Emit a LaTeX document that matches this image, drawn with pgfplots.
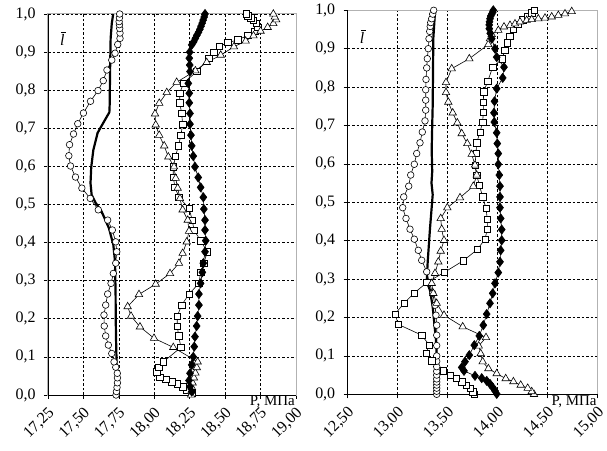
\documentclass[border=0pt]{standalone}
\usepackage{fontspec}
\setmainfont{Liberation Serif}
\usepackage{pgfplots}
\pgfplotsset{compat=1.18}

\tikzset{lbar/.style={font=\fontsize{16}{18}\selectfont\itshape, inner sep=1bp}}
\newcommand{\lbar}{\makebox[0pt][l]{\hspace{0.8bp}\raisebox{12.5bp}{\rule{5.5bp}{0.9bp}}}l}

\pgfplotsset{
  panel/.style={
    scale only axis,
    ymin=0, ymax=1,
    ytick={0,0.1,0.2,0.3,0.4,0.5,0.6,0.7,0.8,0.9,1.0},
    grid=major,
    major grid style={black, line width=0.6bp, dash pattern=on 2.5bp off 2bp},
    axis line style={gray!60, line width=1bp},
    tick align=outside, xtick pos=bottom, ytick pos=left,
    major tick length=4bp,
    tick style={black, line width=0.6bp},
    clip=false,
    tick label style={font=\fontsize{16}{18}\selectfont},
    /pgf/number format/.cd, use comma, fixed, fixed zerofill, assume math mode=true,
    /pgfplots/.cd,
    yticklabel style={/pgf/number format/precision=1, xshift=-5bp},
    xticklabel style={/pgf/number format/precision=2, rotate=45, anchor=east, yshift=-11bp, xshift=-2bp},
    xlabel={P, МПа},
    xlabel style={at={(axis description cs:1,0)}, anchor=north east, inner sep=1bp, font=\fontsize{15}{17}\selectfont},
  },
  thin line/.style={black, line width=0.6bp},
  circ/.style={thin line, mark=*, mark size=3.3bp, mark options={fill=white, solid, line width=0.6bp}},
  sq/.style={thin line, mark=square*, mark size=3.2bp, mark options={fill=white, solid, line width=0.6bp}},
  tri/.style={thin line, mark=triangle*, mark size=4.3bp, mark options={fill=white, solid, line width=0.6bp}},
  dia/.style={thin line, mark=diamond*, mark size=4.6bp, mark options={fill=black, solid}},
  thick line/.style={black, line width=2.2bp, no markers},
}

\begin{document}
\begin{tikzpicture}
\useasboundingbox (0,0) rectangle (607bp,451bp);

% ---------- left panel ----------
\begin{axis}[panel, at={(48bp,56bp)}, anchor=south west, width=248bp, height=381bp,
  xmin=17.25, xmax=19, xtick={17.25,17.5,17.75,18,18.25,18.5,18.75,19}]

\addplot[thick line] coordinates {
(17.737,0.0) (17.735,0.05) (17.733,0.1) (17.730,0.15) (17.728,0.2) (17.727,0.262)
(17.723,0.35) (17.711,0.394) (17.68,0.438) (17.629,0.481) (17.585,0.505) (17.558,0.525)
(17.550,0.556) (17.555,0.598) (17.57,0.643) (17.60,0.688) (17.652,0.722) (17.683,0.742)
(17.685,0.76) (17.688,0.85) (17.692,0.936) (17.70,0.975) (17.71,1.0)
};

\addplot[circ] coordinates {
(17.730,0.000) (17.733,0.009) (17.737,0.020) (17.740,0.032) (17.740,0.045) (17.739,0.057)
(17.728,0.073) (17.716,0.087) (17.700,0.109) (17.676,0.131) (17.657,0.155) (17.647,0.181)
(17.645,0.210) (17.657,0.236) (17.671,0.265) (17.695,0.293) (17.711,0.319) (17.728,0.346)
(17.735,0.376) (17.728,0.402) (17.704,0.433) (17.671,0.459) (17.605,0.486) (17.548,0.516)
(17.489,0.543) (17.444,0.572) (17.409,0.601) (17.397,0.628) (17.402,0.657) (17.430,0.685)
(17.460,0.712) (17.500,0.740) (17.550,0.771) (17.603,0.799) (17.640,0.825) (17.666,0.853)
(17.700,0.879) (17.723,0.897) (17.742,0.920) (17.758,0.936) (17.758,0.950) (17.756,0.962)
(17.754,0.972) (17.752,0.980) (17.754,0.990) (17.756,1.000)
};

\addplot[sq] coordinates {
(18.264,0.004) (18.229,0.013) (18.200,0.022) (18.162,0.029) (18.123,0.035) (18.080,0.041)
(18.040,0.046) (18.017,0.061) (18.033,0.073) (18.064,0.087) (18.188,0.125) (18.172,0.155)
(18.162,0.181) (18.162,0.207) (18.193,0.236) (18.245,0.265) (18.315,0.293) (18.327,0.322)
(18.350,0.346) (18.374,0.376) (18.327,0.405) (18.280,0.433) (18.268,0.459) (18.245,0.490)
(18.174,0.519) (18.146,0.545) (18.134,0.571) (18.134,0.599) (18.150,0.627) (18.170,0.654)
(18.188,0.682) (18.200,0.711) (18.193,0.739) (18.180,0.767) (18.180,0.792) (18.205,0.818)
(18.299,0.849) (18.386,0.884) (18.420,0.900) (18.460,0.915) (18.520,0.925) (18.590,0.932)
(18.660,0.944) (18.710,0.955) (18.730,0.965) (18.720,0.975) (18.700,0.983) (18.680,0.990)
(18.660,0.995) (18.650,1.000)
};

\addplot[tri] coordinates {
(18.260,0.000) (18.262,0.010) (18.265,0.020) (18.270,0.032) (18.280,0.045) (18.290,0.058)
(18.300,0.072) (18.306,0.087) (18.134,0.125) (17.998,0.149) (17.899,0.179) (17.836,0.207)
(17.812,0.232) (17.892,0.264) (18.010,0.291) (18.111,0.319) (18.174,0.346) (18.200,0.372)
(18.229,0.402) (18.245,0.430) (18.236,0.459) (18.200,0.486) (18.181,0.516) (18.165,0.543)
(18.151,0.569) (18.139,0.599) (18.099,0.625) (18.070,0.654) (18.035,0.682) (18.010,0.709)
(18.005,0.738) (18.035,0.766) (18.088,0.794) (18.158,0.821) (18.290,0.851) (18.370,0.873)
(18.469,0.892) (18.562,0.914) (18.645,0.929) (18.700,0.943) (18.750,0.955) (18.800,0.965)
(18.840,0.975) (18.860,0.985) (18.850,0.992) (18.840,1.000)
};

\addplot[dia] coordinates {
(18.264,0.009) (18.252,0.022) (18.245,0.038) (18.252,0.057) (18.264,0.079) (18.275,0.100)
(18.282,0.127) (18.287,0.153) (18.299,0.181) (18.306,0.207) (18.315,0.236) (18.315,0.265)
(18.327,0.293) (18.339,0.322) (18.346,0.346) (18.358,0.376) (18.363,0.405) (18.358,0.433)
(18.358,0.459) (18.350,0.488) (18.346,0.519) (18.327,0.545) (18.310,0.571) (18.287,0.599)
(18.275,0.627) (18.264,0.654) (18.259,0.682) (18.252,0.711) (18.252,0.739) (18.247,0.767)
(18.247,0.792) (18.240,0.818) (18.252,0.849) (18.250,0.866) (18.247,0.884) (18.250,0.900)
(18.264,0.919) (18.278,0.927) (18.290,0.936) (18.300,0.944) (18.312,0.952) (18.322,0.960)
(18.330,0.968) (18.338,0.976) (18.345,0.984) (18.352,0.992) (18.358,1.000)
};

\draw[black, line width=0.9bp] (rel axis cs:0,1) -- (rel axis cs:0,0) -- (rel axis cs:1,0);
\node[lbar] at (rel axis cs:0.058,0.935) {\lbar};
\end{axis}

% ---------- right panel ----------
\begin{axis}[panel, at={(347.7bp,56.7bp)}, anchor=south west, width=250bp, height=384bp,
  xmin=12.5, xmax=15, xtick={12.5,13,13.5,14,14.5,15}]

\addplot[thick line] coordinates {
(13.397,0.0) (13.393,0.05) (13.39,0.1) (13.383,0.141) (13.366,0.185) (13.35,0.228)
(13.323,0.271) (13.29,0.293) (13.295,0.32) (13.30,0.345) (13.323,0.432) (13.35,0.52)
(13.338,0.55) (13.345,0.58) (13.34,0.636) (13.345,0.7) (13.35,0.753) (13.356,0.926)
(13.373,0.996)
};

\addplot[circ] coordinates {
(13.39,0.000) (13.39,0.008) (13.39,0.016) (13.39,0.024) (13.39,0.032) (13.39,0.040)
(13.39,0.050) (13.39,0.060) (13.39,0.072) (13.39,0.086) (13.39,0.100) (13.39,0.127)
(13.39,0.154) (13.39,0.180) (13.383,0.206) (13.373,0.232) (13.350,0.263) (13.316,0.291)
(13.290,0.319) (13.240,0.349) (13.206,0.375) (13.166,0.404) (13.123,0.430) (13.083,0.458)
(13.050,0.486) (13.060,0.514) (13.110,0.542) (13.130,0.571) (13.166,0.599) (13.190,0.627)
(13.223,0.655) (13.246,0.683) (13.273,0.712) (13.280,0.740) (13.280,0.766) (13.280,0.793)
(13.283,0.820) (13.290,0.850) (13.296,0.874) (13.306,0.900) (13.313,0.926) (13.320,0.945)
(13.325,0.958) (13.330,0.968) (13.340,0.978) (13.350,0.990) (13.360,1.000)
};

\addplot[sq] coordinates {
(13.763,0.000) (13.750,0.007) (13.723,0.016) (13.683,0.024) (13.640,0.033) (13.583,0.042)
(13.523,0.050) (13.456,0.061) (13.340,0.087) (13.283,0.107) (13.316,0.128) (13.240,0.154)
(13.006,0.182) (12.973,0.209) (13.063,0.237) (13.163,0.263) (13.290,0.291) (13.463,0.317)
(13.656,0.348) (13.796,0.377) (13.873,0.404) (13.896,0.430) (13.896,0.456) (13.883,0.484)
(13.850,0.514) (13.816,0.545) (13.790,0.571) (13.773,0.597) (13.783,0.627) (13.790,0.655)
(13.823,0.683) (13.850,0.709) (13.856,0.735) (13.856,0.761) (13.860,0.788) (13.900,0.815)
(13.950,0.852) (14.047,0.874) (14.070,0.896) (14.095,0.915) (14.120,0.932) (14.157,0.950)
(14.200,0.963) (14.250,0.975) (14.300,0.985) (14.340,0.993) (14.363,1.000)
};

\addplot[tri] coordinates {
(14.363,0.000) (14.340,0.007) (14.300,0.016) (14.230,0.024) (14.157,0.033) (14.080,0.041)
(13.990,0.054) (13.907,0.067) (13.850,0.085) (13.830,0.106) (13.810,0.126) (13.883,0.148)
(13.650,0.176) (13.463,0.206) (13.390,0.237) (13.356,0.263) (13.340,0.289) (13.373,0.315)
(13.406,0.345) (13.430,0.373) (13.463,0.401) (13.440,0.430) (13.430,0.458) (13.496,0.486)
(13.623,0.512) (13.756,0.542) (13.790,0.571) (13.773,0.597) (13.740,0.625) (13.696,0.653)
(13.640,0.679) (13.596,0.707) (13.550,0.733) (13.506,0.761) (13.483,0.786) (13.483,0.812)
(13.540,0.848) (13.716,0.874) (13.906,0.911) (13.923,0.926) (13.940,0.937) (14.006,0.948)
(14.063,0.957) (14.123,0.961) (14.173,0.965) (14.223,0.970) (14.290,0.974) (14.340,0.976)
(14.406,0.978) (14.473,0.980) (14.540,0.983) (14.606,0.987) (14.673,0.991) (14.740,0.997)
};

\addplot[dia] coordinates {
(13.990,0.001) (13.973,0.009) (13.950,0.018) (13.923,0.027) (13.890,0.035) (13.840,0.042)
(13.773,0.048) (13.663,0.061) (13.640,0.070) (13.673,0.085) (13.716,0.102) (13.766,0.128)
(13.816,0.152) (13.856,0.180) (13.890,0.209) (13.923,0.237) (13.950,0.263) (13.973,0.289)
(14.006,0.317) (14.023,0.345) (14.030,0.375) (14.040,0.401) (14.040,0.429) (14.030,0.458)
(14.023,0.486) (14.023,0.514) (14.023,0.542) (14.016,0.571) (14.006,0.599) (14.006,0.627)
(13.996,0.653) (13.990,0.681) (13.966,0.709) (13.963,0.733) (13.968,0.763) (13.990,0.796)
(14.050,0.824) (14.063,0.852) (13.990,0.878) (13.973,0.900) (13.940,0.926) (13.925,0.940)
(13.916,0.952) (13.915,0.962) (13.918,0.970) (13.923,0.978) (13.930,0.985) (13.940,0.990)
(13.950,0.995) (13.956,1.000)
};

\draw[black, line width=0.9bp] (rel axis cs:0,1) -- (rel axis cs:0,0) -- (rel axis cs:1,0);
\node[lbar] at (rel axis cs:0.058,0.93) {\lbar};
\end{axis}
\end{tikzpicture}
\end{document}
